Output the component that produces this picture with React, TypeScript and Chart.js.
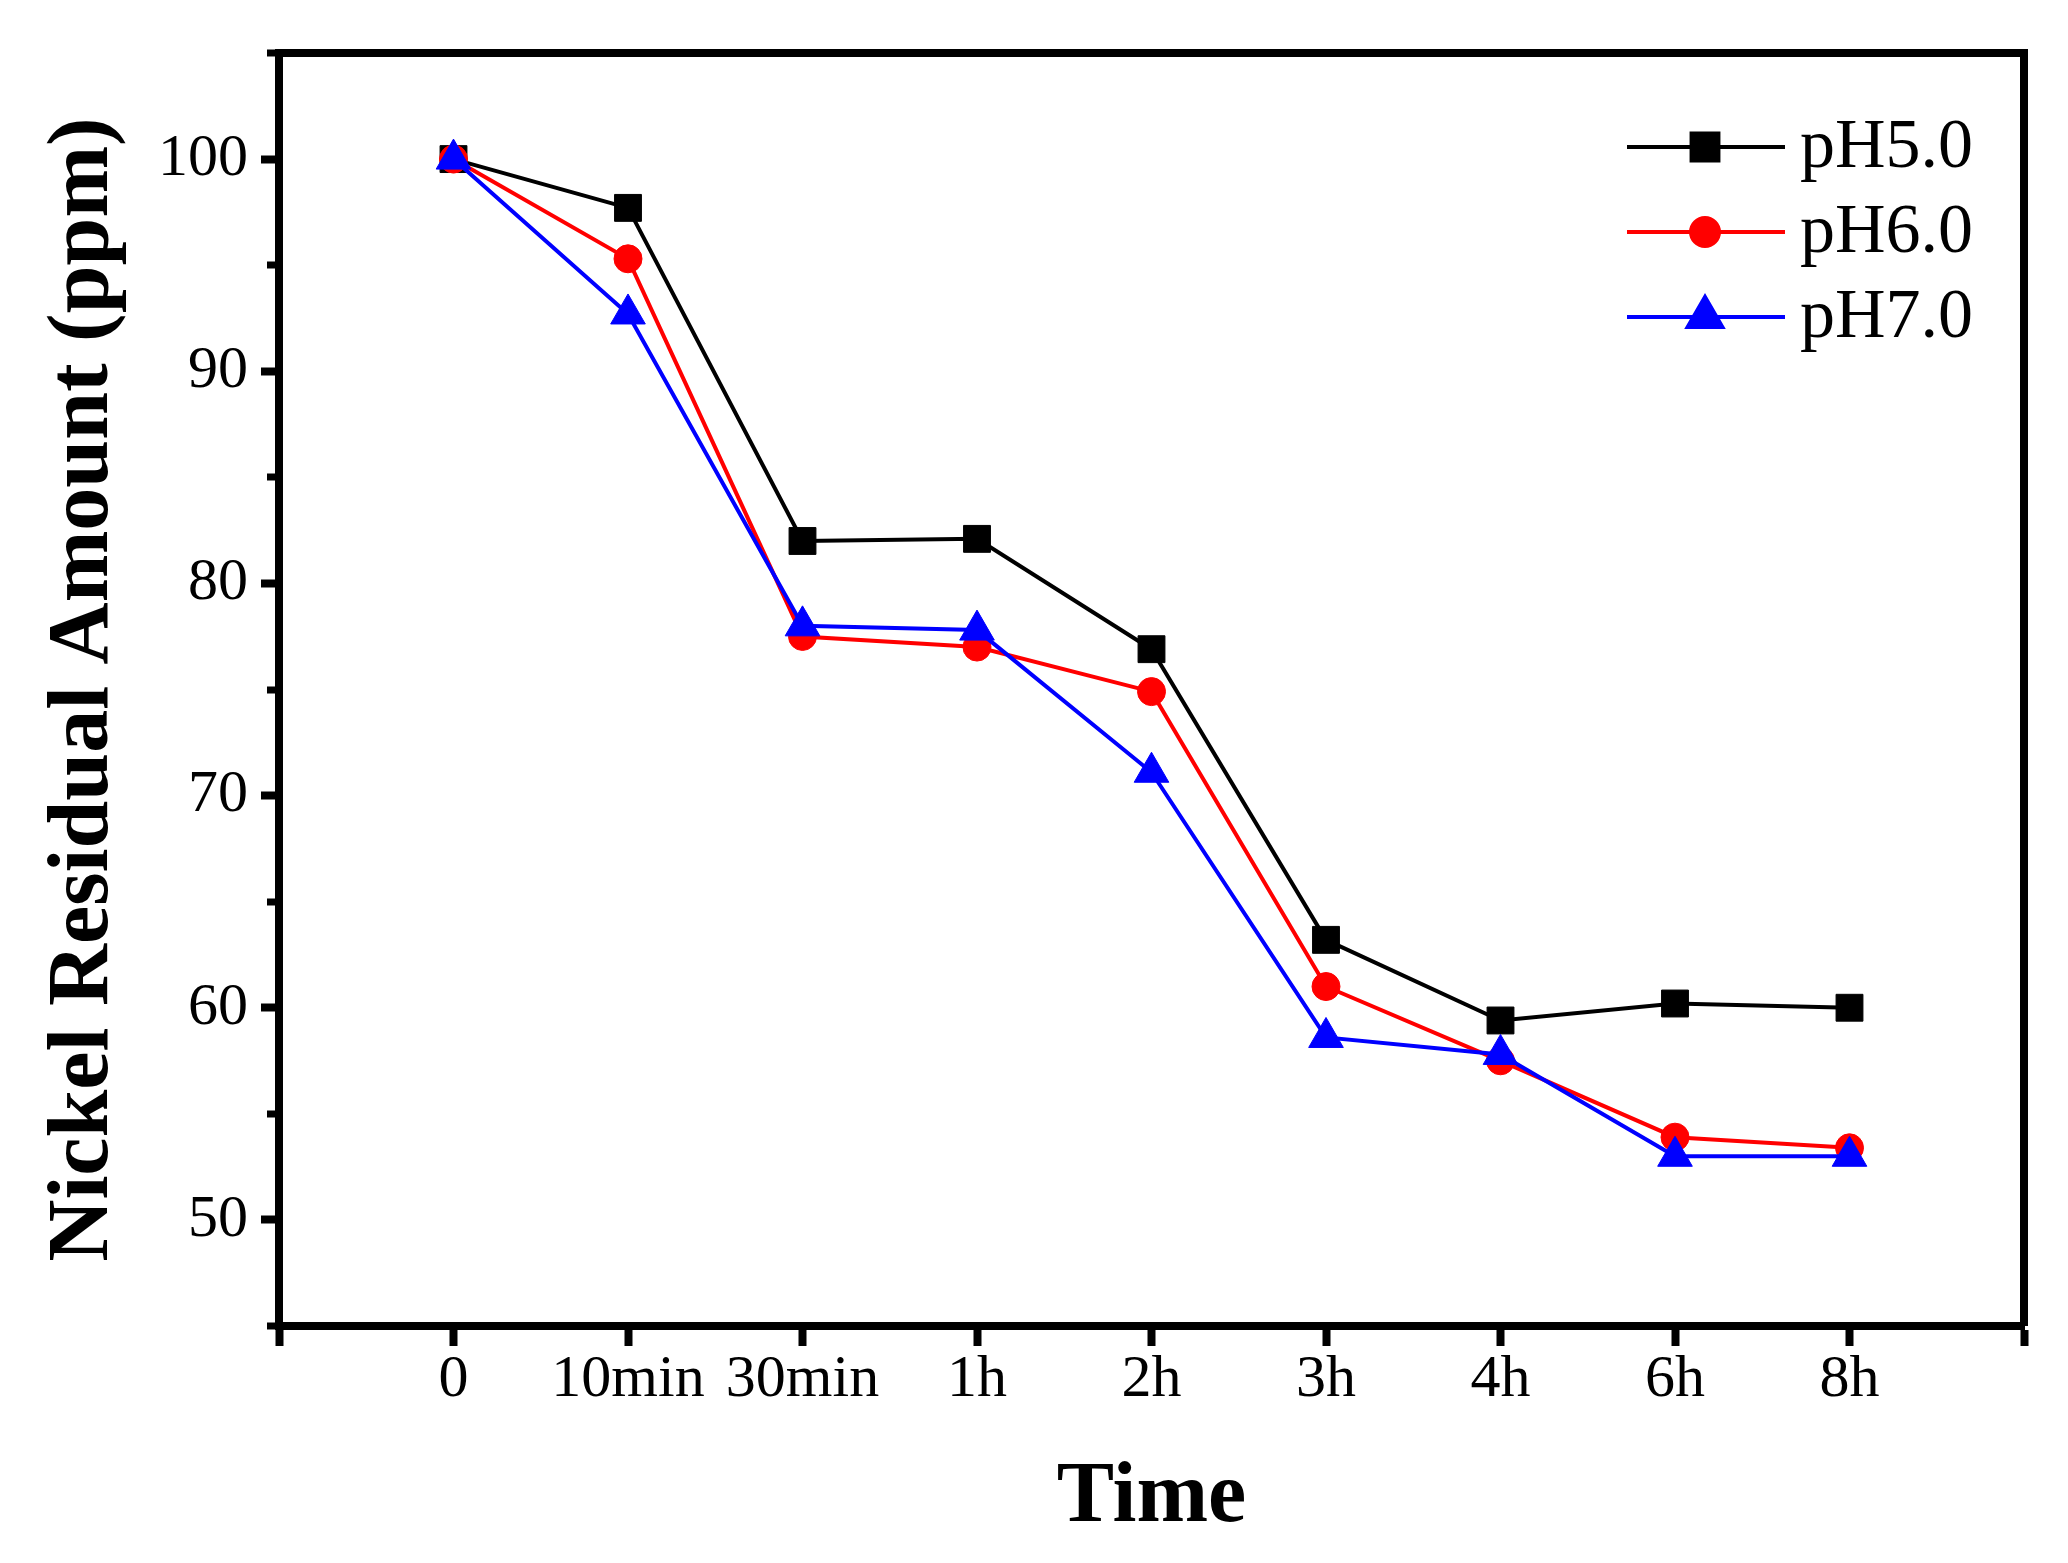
import { useEffect, useRef } from "react"
import { Chart, registerables, type Plugin } from "chart.js"
import { drawPoint } from "chart.js/helpers"

Chart.register(...registerables)

// ── Data ─────────────────────────────────────────────────────
const TIME_LABELS = ["0", "10min", "30min", "1h", "2h", "3h", "4h", "6h", "8h"]
const SERIES_NAMES = ["pH5.0", "pH6.0", "pH7.0"]
const PH5 = [100, 97.7, 82.0, 82.1, 76.9, 63.2, 59.4, 60.2, 60.0]
const PH6 = [100, 95.3, 77.5, 77.0, 74.9, 61.0, 57.5, 53.9, 53.4]
const PH7 = [100, 92.7, 78.0, 77.8, 71.1, 58.6, 57.8, 53.0, 53.0]
const Y_TICKS = [50, 60, 70, 80, 90, 100]
const Y_MINOR = [45, 55, 65, 75, 85, 95, 105]

// ── Look ─────────────────────────────────────────────────────
const W = 2068
const H = 1563
const SERIF = "'Liberation Serif', 'Times New Roman', serif"
const AXIS_W = 8
const LINE_W = 4
const COLORS = ["#000000", "#ff0000", "#0000ff"]
const STYLES = ["rect", "circle", "triangle"] as const
const RADII = [19, 14, 20]

// legend + minor ticks + top/right frame, drawn on the canvas
const extras: Plugin<"line"> = {
  id: "extras",
  afterDraw(chart) {
    const { ctx, chartArea: a } = chart
    const yScale = chart.scales.y
    ctx.save()
    ctx.strokeStyle = "#000"
    ctx.lineCap = "butt"

    // frame top + right
    ctx.lineWidth = AXIS_W
    ctx.beginPath()
    ctx.moveTo(a.left - AXIS_W / 2, a.top)
    ctx.lineTo(a.right + AXIS_W / 2, a.top)
    ctx.moveTo(a.right, a.top)
    ctx.lineTo(a.right, a.bottom)
    ctx.stroke()

    // minor y ticks
    ctx.lineWidth = 7
    ctx.beginPath()
    Y_MINOR.forEach(v => {
      const y = Math.round(yScale.getPixelForValue(v))
      ctx.moveTo(a.left - 12, y)
      ctx.lineTo(a.left, y)
    })
    ctx.stroke()

    // legend
    SERIES_NAMES.forEach((name, i) => {
      const y = a.top + 94 + i * 85
      const x0 = a.right - 397
      const x1 = a.right - 239
      const xm = a.right - 319
      ctx.strokeStyle = COLORS[i]
      ctx.fillStyle = COLORS[i]
      ctx.lineWidth = LINE_W
      ctx.beginPath()
      ctx.moveTo(x0, y)
      ctx.lineTo(x1, y)
      ctx.stroke()
      drawPoint(ctx, { pointStyle: STYLES[i], radius: RADII[i], rotation: 0, borderWidth: 1 }, xm, y)
      ctx.fillStyle = "#000"
      ctx.font = `70px ${SERIF}`
      ctx.textAlign = "left"
      ctx.textBaseline = "middle"
      ctx.fillText(name, a.right - 224, y + 2)
    })
    ctx.restore()
  },
}

export default function App() {
  const ref = useRef<HTMLCanvasElement>(null)

  useEffect(() => {
    document.body.style.margin = "0"
    document.body.style.overflow = "hidden"
    if (!ref.current) return

    const series = [PH5, PH6, PH7]
    const chart = new Chart(ref.current, {
      type: "line",
      data: {
        datasets: series.map((vals, i) => ({
          label: SERIES_NAMES[i],
          data: vals.map((y, x) => ({ x, y })),
          borderColor: COLORS[i],
          backgroundColor: COLORS[i],
          pointBackgroundColor: COLORS[i],
          pointBorderColor: COLORS[i],
          borderWidth: LINE_W,
          pointStyle: STYLES[i],
          pointRadius: RADII[i],
          pointBorderWidth: 1,
          tension: 0,
          order: 3 - i,
        })),
      },
      options: {
        responsive: false,
        animation: false,
        events: [],
        layout: { padding: { top: 53, right: 44, left: 0, bottom: 0 } },
        plugins: {
          legend: { display: false },
          tooltip: { enabled: false },
        },
        scales: {
          x: {
            type: "linear",
            min: -1,
            max: 9,
            afterFit: (s: any) => { s.height = H - 1326 },
            ticks: {
              stepSize: 1,
              autoSkip: false,
              maxRotation: 0,
              color: "#000",
              padding: 4,
              font: { family: SERIF, size: 60, lineHeight: 1 },
              callback: (v: any) => TIME_LABELS[v as number] ?? "",
            },
            grid: {
              drawOnChartArea: false,
              drawTicks: true,
              tickLength: 20,
              tickWidth: 8,
              tickColor: "#000",
            },
            border: { display: true, color: "#000", width: AXIS_W },
            title: {
              display: true,
              text: "Time",
              color: "#000",
              font: { family: SERIF, size: 86, weight: "bold", lineHeight: 1 },
              padding: { top: 0, bottom: 21 },
            },
          },
          y: {
            type: "linear",
            min: 45,
            max: 105,
            afterFit: (s: any) => { s.width = 279 },
            afterBuildTicks: (s: any) => { s.ticks = Y_TICKS.map(value => ({ value })) },
            ticks: {
              color: "#000",
              padding: 13,
              font: { family: SERIF, size: 60, lineHeight: 1 },
            },
            grid: {
              drawOnChartArea: false,
              drawTicks: true,
              tickLength: 18,
              tickWidth: 8,
              tickColor: "#000",
            },
            border: { display: true, color: "#000", width: AXIS_W },
            title: {
              display: true,
              text: "Nickel Residual Amount (ppm)",
              color: "#000",
              font: { family: SERIF, size: 86, weight: "bold", lineHeight: 1 },
              padding: { top: 42, bottom: 0 },
            },
          },
        },
      },
      plugins: [extras],
    })

    return () => chart.destroy()
  }, [])

  return (
    <div style={{ width: W, height: H, background: "#fff" }}>
      <canvas ref={ref} width={W} height={H} style={{ width: W, height: H, display: "block" }} />
    </div>
  )
}
